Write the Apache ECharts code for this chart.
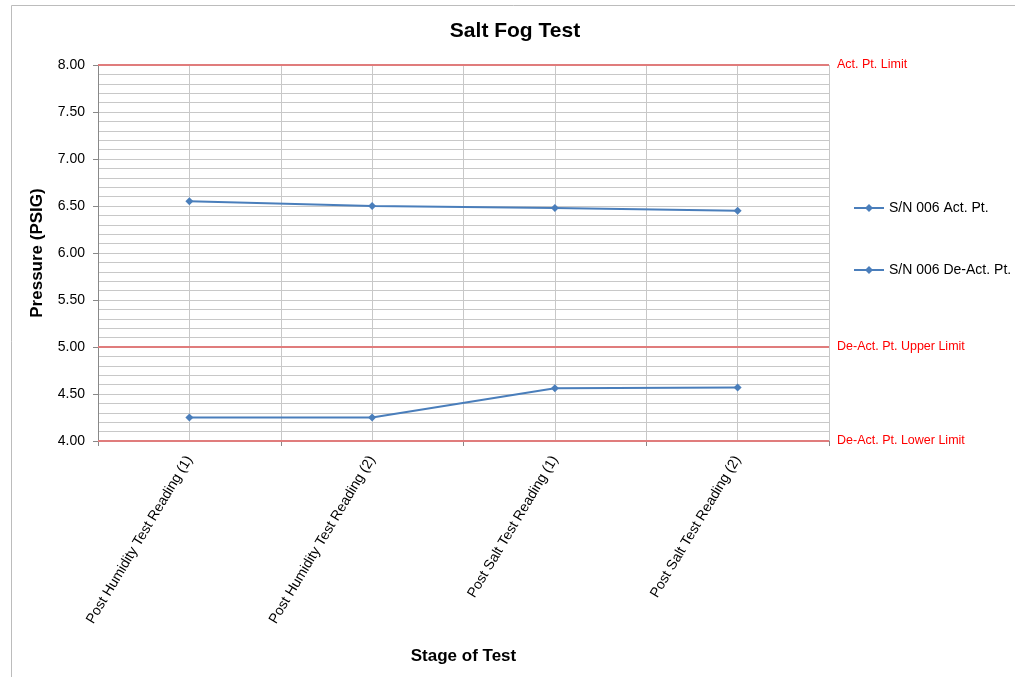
<!DOCTYPE html>
<html><head><meta charset="utf-8">
<script src="https://cdn.jsdelivr.net/npm/echarts@6/dist/echarts.min.js"></script>
<style>html,body{margin:0;padding:0;background:#fff}#c{width:1015px;height:677px}</style>
</head><body><div id="c"></div>
<script>
const categories = ['Post Humidity Test Reading (1)','Post Humidity Test Reading (2)','Post Salt Test Reading (1)','Post Salt Test Reading (2)'];
const actPt = [6.55, 6.50, 6.48, 6.45];
const deActPt = [4.25, 4.25, 4.56, 4.57];
const limitValues = [8.00, 5.00, 4.00];
const limitNames = ['Act. Pt. Limit','De-Act. Pt. Upper Limit','De-Act. Pt. Lower Limit'];
const seriesNames = ['S/N 006 Act. Pt.','S/N 006 De-Act. Pt.'];

const font = 'Liberation Sans, Arial, sans-serif';
const blue = '#4a7ebb';
const chart = echarts.init(document.getElementById('c'), null, {renderer:'canvas'});
chart.setOption({
  animation:false,
  textStyle:{fontFamily:font},
  graphic:[
    {type:'rect',shape:{x:11.5,y:5.5,width:1100,height:700},style:{fill:'none',stroke:'#bcbcbc',lineWidth:1},silent:true},
    {type:'text',x:515,y:31,style:{text:'Salt Fog Test',textAlign:'center',textVerticalAlign:'middle',
      font:'bold 21px '+font,fill:'#000'},silent:true}
  ],
  legend:{orient:'vertical',left:848,top:196,itemGap:48,itemWidth:30,itemHeight:10,
    textStyle:{fontSize:14,color:'#000',fontFamily:font},data:seriesNames},
  grid:{left:98,right:186,top:65,bottom:236,containLabel:false},
  xAxis:[{type:'category',data:categories,boundaryGap:true,
    axisLine:{lineStyle:{color:'#888'}},axisTick:{show:true,length:5,lineStyle:{color:'#888'}},
    axisLabel:{rotate:59,fontSize:14,color:'#000',margin:16,fontFamily:font},
    splitLine:{show:true,lineStyle:{color:'#c8c8c8'}},
    name:'Stage of Test',nameLocation:'middle',nameGap:207,
    nameTextStyle:{fontSize:17,fontWeight:'bold',color:'#000',fontFamily:font}},
   {type:'value',min:0,max:4,interval:0.5,show:true,position:'top',
    axisLine:{show:false},axisTick:{show:false},axisLabel:{show:false},
    splitLine:{show:true,lineStyle:{color:'#c8c8c8'}}}],
  yAxis:{type:'value',min:4,max:8,interval:0.5,
    axisLine:{show:true,lineStyle:{color:'#888'}},axisTick:{show:true,length:5,lineStyle:{color:'#888'}},
    axisLabel:{formatter:v=>v.toFixed(2),fontSize:14,color:'#000',margin:13,fontFamily:font},
    splitLine:{show:true,lineStyle:{color:'#c8c8c8'}},
    minorTick:{show:false,splitNumber:5},
    minorSplitLine:{show:true,lineStyle:{color:'#c8c8c8'}},
    name:'Pressure (PSIG)',nameLocation:'middle',nameGap:52,nameRotate:90,
    nameTextStyle:{fontSize:17,fontWeight:'bold',color:'#000',fontFamily:font}},
  series:[
    {name:seriesNames[0],type:'line',data:actPt,symbol:'diamond',symbolSize:8,
     itemStyle:{color:blue},lineStyle:{color:blue,width:2},
     markLine:{silent:true,symbol:'none',
       lineStyle:{color:'#e07c7c',width:2,type:'solid'},
       label:{position:'end',color:'#ff0000',fontSize:12.5,fontFamily:font,distance:8,formatter:p=>p.name},
       data:limitValues.map((v,i)=>({yAxis:v,name:limitNames[i]}))}},
    {name:seriesNames[1],type:'line',data:deActPt,symbol:'diamond',symbolSize:8,
     itemStyle:{color:blue},lineStyle:{color:blue,width:2}}
  ]
});
</script></body></html>
